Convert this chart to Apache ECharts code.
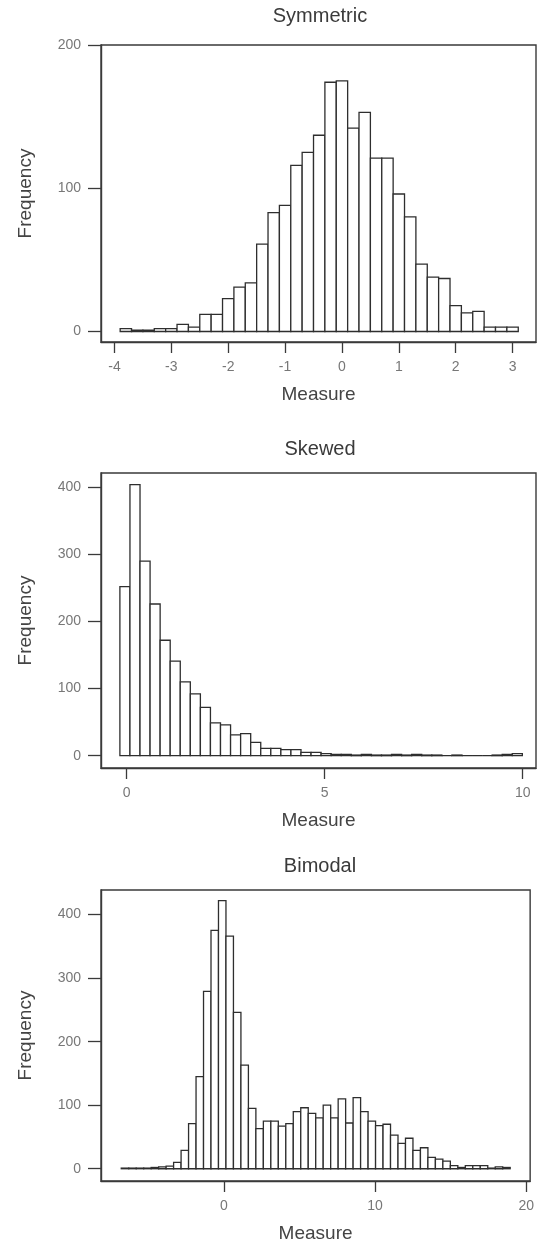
<!DOCTYPE html>
<html>
<head>
<meta charset="utf-8">
<script src="https://cdn.jsdelivr.net/npm/echarts@6/dist/echarts.min.js"></script>
<style>
html,body{margin:0;padding:0;background:#fff;}
#c{width:537px;height:1244px;}
</style>
</head>
<body>
<div id="c"></div>
<script>
// ---- Data ----
const panelTitles = ['Symmetric', 'Skewed', 'Bimodal'];

// Symmetric: bins of width 0.2 starting at -3.9
const symStart = -3.9;
const symWidth = 0.2;
const symCounts = [2, 1, 1, 2, 2, 5, 3, 12, 12, 23, 31, 34, 61, 83, 88, 116, 125, 137, 174, 175,
                   142, 153, 121, 121, 96, 80, 47, 38, 37, 18, 13, 14, 3, 3, 3];
const symXTicks = [-4, -3, -2, -1, 0, 1, 2, 3];
const symYTicks = [0, 100, 200];

// Skewed: bins of width 0.254 starting at -0.17
const skewStart = -0.17;
const skewWidth = 0.254;
const skewCounts = [252, 404, 290, 226, 172, 141, 110, 92, 72, 49, 46, 31, 33, 20, 11, 11, 9, 9, 5, 5,
                    3, 2, 2, 1, 2, 1, 1, 2, 1, 2, 1, 1, 0, 1, 0, 0, 0, 1, 2, 3];
const skewXTicks = [0, 5, 10];
const skewYTicks = [0, 100, 200, 300, 400];

// Bimodal: bins of width 0.495 starting at -6.8
const bimStart = -6.8;
const bimWidth = 0.495;
const bimCounts = [1, 1, 1, 1, 2, 3, 4, 10, 29, 71, 145, 279, 375, 422, 366, 246, 163, 95, 63, 75,
                   75, 67, 71, 90, 96, 87, 80, 100, 80, 110, 72, 112, 90, 75, 68, 70, 53, 40, 48, 29,
                   33, 18, 15, 12, 5, 2, 5, 5, 5, 1, 3, 2];
const bimXTicks = [0, 10, 20];
const bimYTicks = [0, 100, 200, 300, 400];

// ---- Build ----
function bins(start, width, counts) {
  return counts.map((c, i) => [start + i * width, start + (i + 1) * width, c]);
}

const panels = [
  {start: symStart, width: symWidth, counts: symCounts, xt: symXTicks, yt: symYTicks,
   xr: [-4.237, 3.412], yr: [-7.33, 200], top: 45, h: 297, titleY: 6},
  {start: skewStart, width: skewWidth, counts: skewCounts, xt: skewXTicks, yt: skewYTicks,
   xr: [-0.647, 10.335], yr: [-18.3, 421.2], top: 473, h: 295, titleY: 439},
  {start: bimStart, width: bimWidth, counts: bimCounts, xt: bimXTicks, yt: bimYTicks,
   xr: [-8.14, 20.26], yr: [-19.3, 438.7], top: 890, h: 296, titleY: 856}
];

const FONT = '"Liberation Sans", Arial, sans-serif';
const AX = '#3a3a3a';
const TICKC = '#777';

function renderItem(params, api) {
  const p0 = api.coord([api.value(0), 0]);
  const p1 = api.coord([api.value(1), api.value(2)]);
  return {
    type: 'rect',
    shape: {x: p0[0], y: p1[1], width: p1[0] - p0[0], height: p0[1] - p1[1]},
    style: {fill: '#fff', stroke: '#2e2e2e', lineWidth: 1.3}
  };
}

const option = {
  animation: false,
  backgroundColor: '#fff',
  title: panels.map((p, i) => ({
    text: panelTitles[i],
    left: 320, textAlign: 'center',
    top: p.titleY, padding: 0,
    textStyle: {fontFamily: FONT, fontSize: 20, fontWeight: 'normal', color: '#3a3a3a'}
  })),
  grid: panels.map(p => ({
    left: 101, top: p.top, width: 435, height: p.h,
    show: true, borderColor: AX, borderWidth: 1.4, backgroundColor: 'transparent'
  })),
  xAxis: panels.map((p, i) => ({
    type: 'value', gridIndex: i, min: p.xr[0], max: p.xr[1],
    name: 'Measure', nameLocation: 'middle', nameGap: 43,
    nameTextStyle: {fontFamily: FONT, fontSize: 19, color: '#444'},
    axisLine: {show: true, onZero: false, lineStyle: {color: AX, width: 1.4}},
    axisTick: {show: true, customValues: p.xt, length: 11, lineStyle: {color: AX, width: 1.3}},
    axisLabel: {customValues: p.xt, margin: 18, fontFamily: FONT, fontSize: 14, color: TICKC},
    splitLine: {show: false}
  })),
  yAxis: panels.map((p, i) => ({
    type: 'value', gridIndex: i, min: p.yr[0], max: p.yr[1],
    name: 'Frequency', nameLocation: 'middle', nameGap: 66, nameRotate: 90,
    nameTextStyle: {fontFamily: FONT, fontSize: 19, color: '#444'},
    axisLine: {show: true, onZero: false, lineStyle: {color: AX, width: 1.4}},
    axisTick: {show: true, customValues: p.yt, length: 13, lineStyle: {color: AX, width: 1.3}},
    axisLabel: {customValues: p.yt, margin: 20, fontFamily: FONT, fontSize: 14, color: TICKC},
    splitLine: {show: false}
  })),
  series: panels.map((p, i) => ({
    type: 'custom', xAxisIndex: i, yAxisIndex: i,
    renderItem: renderItem,
    encode: {x: [0, 1], y: 2},
    data: bins(p.start, p.width, p.counts),
    clip: false
  }))
};

const chart = echarts.init(document.getElementById('c'), null, {renderer: 'canvas'});
chart.setOption(option);
</script>
</body>
</html>
